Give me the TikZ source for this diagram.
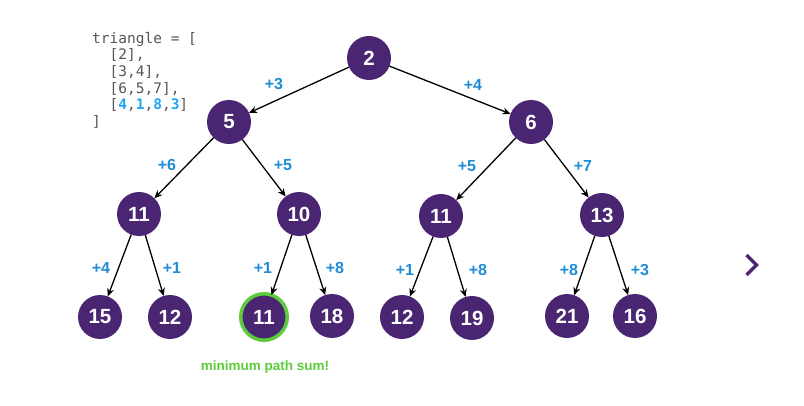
\documentclass[tikz,border=0pt]{standalone}
\usepackage{fontspec}
\setmainfont{Liberation Sans}
\newfontfamily\codefont{DejaVu Sans Mono}
\usetikzlibrary{arrows.meta}
\definecolor{nodepurple}{RGB}{74,38,114}
\definecolor{lblblue}{RGB}{30,140,215}
\definecolor{codeblue}{RGB}{30,165,245}
\definecolor{codegray}{RGB}{85,85,85}
\definecolor{ringgreen}{RGB}{92,204,58}
\tikzset{
  num/.style={circle, fill=nodepurple, text=white, minimum size=44pt, inner sep=0pt, outer sep=0pt,
    font=\fontsize{20.5}{22}\selectfont\bfseries},
  best/.style={num, minimum size=46.5pt, draw=ringgreen, line width=3.5pt},
  edge/.style={draw=black, line width=1.3pt, -{Stealth[length=8pt,width=7pt]}},
  lbl/.style={text=lblblue, font=\fontsize{16}{18}\selectfont\bfseries, inner sep=0pt},
  code/.style={text=codegray, font=\codefont\fontsize{14.5}{16.6}\selectfont, align=left, anchor=north west, inner sep=0pt},
  note/.style={text=ringgreen, font=\fontsize{13.5}{15}\selectfont\bfseries, inner sep=0pt},
  chev/.style={draw=nodepurple, line width=3.5pt}
}
\begin{document}
\begin{tikzpicture}[x=1pt,y=-1pt]
\useasboundingbox (0,0) rectangle (804,406);
% code
\node[code] (codeblk) at (92,32) {triangle = [\\
\ \ [2],\\
\ \ [3,4],\\
\ \ [6,5,7],\\
\ \ [{\bfseries\color{codeblue}4},{\bfseries\color{codeblue}1},{\bfseries\color{codeblue}8},{\bfseries\color{codeblue}3}]\\
]};
% nodes
\node[num] (n2) at (369,58) {2};
\node[num] (n5) at (229,122) {5};
\node[num] (n6) at (531,122) {6};
\node[num] (n11a) at (139,214) {11};
\node[num] (n10) at (299,214) {10};
\node[num] (n11b) at (441,216) {11};
\node[num] (n13) at (602,215) {13};
\node[num] (n15) at (100,317) {15};
\node[num] (n12a) at (170,317) {12};
\node[best] (n11c) at (264,317) {11};
\node[num] (n18) at (332,316) {18};
\node[num] (n12b) at (402,317) {12};
\node[num] (n19) at (472,318) {19};
\node[num] (n21) at (567,316) {21};
\node[num] (n16) at (635,316) {16};
% edges
\draw[edge] (n2) -- (n5);
\draw[edge] (n2) -- (n6);
\draw[edge] (n5) -- (n11a);
\draw[edge] (n5) -- (n10);
\draw[edge] (n6) -- (n11b);
\draw[edge] (n6) -- (n13);
\draw[edge] (n11a) -- (n15);
\draw[edge] (n11a) -- (n12a);
\draw[edge] (n10) -- (n11c);
\draw[edge] (n10) -- (n18);
\draw[edge] (n11b) -- (n12b);
\draw[edge] (n11b) -- (n19);
\draw[edge] (n13) -- (n21);
\draw[edge] (n13) -- (n16);
% labels
\node[lbl] (l1) at (274,84) {+3};
\node[lbl] (l2) at (473,85) {+4};
\node[lbl] (l3) at (167,165) {+6};
\node[lbl] (l4) at (283,165) {+5};
\node[lbl] (l5) at (467,166) {+5};
\node[lbl] (l6) at (583,166) {+7};
\node[lbl] (l7) at (101,268) {+4};
\node[lbl] (l8) at (172,268) {+1};
\node[lbl] (l9) at (263,268) {+1};
\node[lbl] (l10) at (335,268) {+8};
\node[lbl] (l11) at (405,270) {+1};
\node[lbl] (l12) at (478,270) {+8};
\node[lbl] (l13) at (569,270) {+8};
\node[lbl] (l14) at (640,270) {+3};
% note
\node[note] (msg) at (265,367) {minimum path sum!};
% chevron
\coordinate (c1) at (746.5,255);
\coordinate (c2) at (756.5,265);
\coordinate (c3) at (746.5,275);
\draw[chev] (c1) -- (c2) -- (c3);
\end{tikzpicture}
\end{document}
